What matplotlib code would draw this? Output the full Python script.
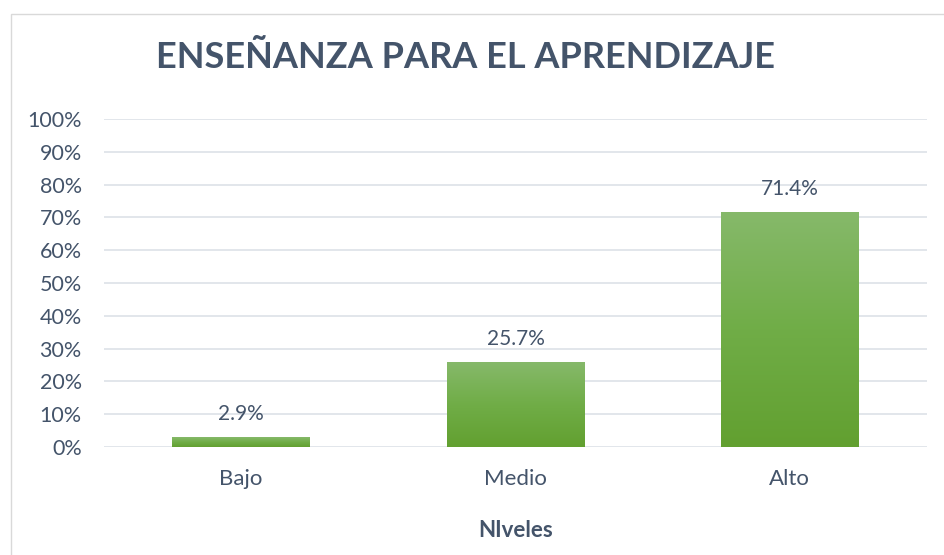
import numpy as np
import matplotlib
matplotlib.use("Agg")
import matplotlib.pyplot as plt
from matplotlib.colors import LinearSegmentedColormap
from matplotlib.patches import Rectangle

categories = ["Bajo", "Medio", "Alto"]
values = [0.029, 0.257, 0.714]
value_labels = ["2.9%", "25.7%", "71.4%"]
yticks = [0.0, 0.1, 0.2, 0.3, 0.4, 0.5, 0.6, 0.7, 0.8, 0.9, 1.0]
ytick_labels = ["0%", "10%", "20%", "30%", "40%", "50%", "60%", "70%", "80%", "90%", "100%"]
title = "ENSEÑANZA PARA EL APRENDIZAJE"
xlabel = "NIveles"

text_color = "#44546A"
grid_color = "#DDE1E7"
plt.rcParams['font.family'] = ['Lato', 'DejaVu Sans']

fig = plt.figure(figsize=(9.44, 5.55), dpi=100)
# outer chart border
fig.patches.append(Rectangle((11/944, -0.1), 1.2, (555-14)/555 + 0.1, transform=fig.transFigure,
                             fill=False, edgecolor="#D9D9D9", linewidth=1.0))
ax = fig.add_axes([104/944, 108/555, 823/944, 328/555])
x = np.arange(len(categories))
width = 0.503
bars = ax.bar(x, values, width=width, color="none", edgecolor="none", zorder=3)
cmap = LinearSegmentedColormap.from_list("g", ["#62A030", "#70AD47", "#86B96A"])
grad = np.linspace(0, 1, 256).reshape(-1, 1)
for b in bars:
    x0, y0 = b.get_x(), b.get_y()
    w, h = b.get_width(), b.get_height()
    ax.imshow(grad, cmap=cmap, aspect="auto", origin="lower",
              extent=[x0, x0 + w, y0, y0 + h], zorder=3, interpolation="bilinear")
for xi, v, lab in zip(x, values, value_labels):
    ax.annotate(lab, (xi, v), xytext=(0, 10), textcoords="offset points",
                ha="center", va="bottom", fontsize=15, color=text_color)

ax.set_xlim(-0.5, 2.5)
ax.set_ylim(0, 1.0)
ax.set_yticks(yticks)
ax.set_yticklabels(ytick_labels, fontsize=15.5, color=text_color)
ax.set_xticks(x)
ax.set_xticklabels(categories, fontsize=16, color=text_color)
ax.tick_params(axis="both", length=0)
ax.tick_params(axis="y", pad=16)
ax.tick_params(axis="x", pad=16)
ax.grid(axis="y", color=grid_color, linewidth=1.2, zorder=0)
ax.set_axisbelow(True)
for s in ax.spines.values():
    s.set_visible(False)
ax.set_xlabel(xlabel, fontsize=16, fontweight="bold", color=text_color, labelpad=22)
fig.text(466/944, 1 - 57/555, title, ha="center", va="center", fontsize=26,
         fontweight="bold", color=text_color)
fig.savefig("out.png", dpi=100)
